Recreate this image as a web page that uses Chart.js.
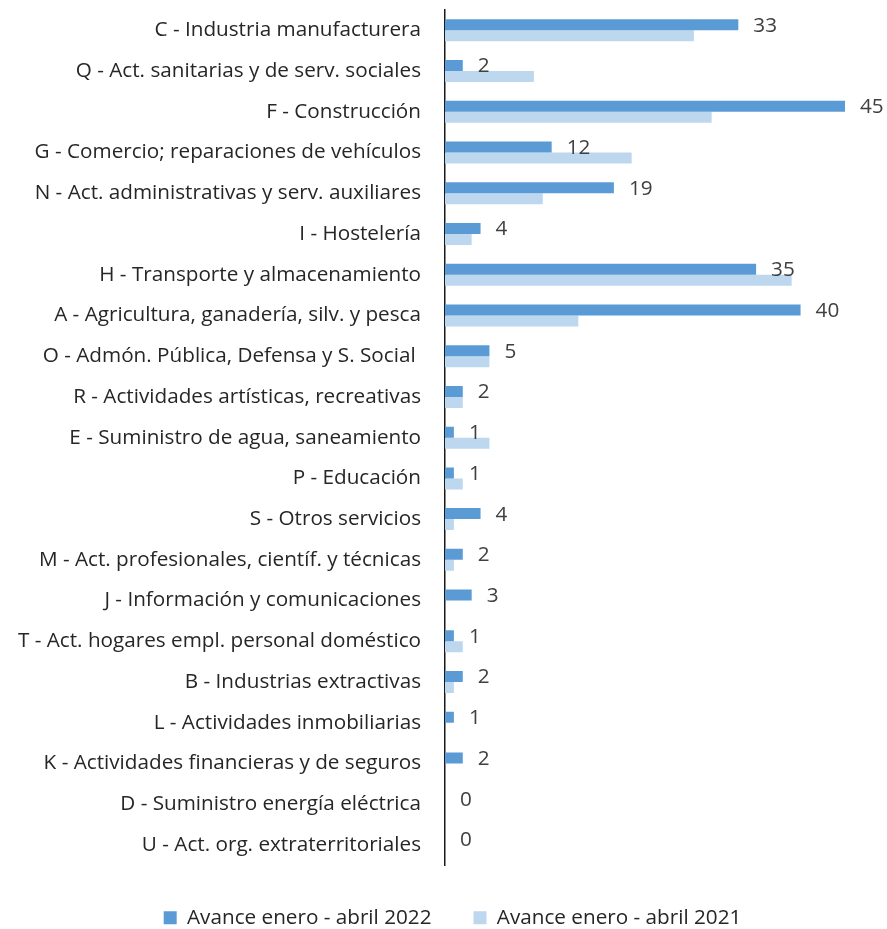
<!DOCTYPE html>
<html>
<head>
<meta charset="utf-8">
<script src="https://cdn.jsdelivr.net/npm/chart.js@4/dist/chart.umd.min.js"></script>
<style>
    html, body { margin: 0; padding: 0; background: #fff; }
    #wrap { width: 887px; height: 929px; }
</style>
</head>
<body>
<div id="wrap"><canvas id="myChart" width="887" height="929"></canvas></div>
<script>
const categories = [
    "C - Industria manufacturera",
    "Q - Act. sanitarias y de serv. sociales",
    "F - Construcción",
    "G - Comercio; reparaciones de vehículos",
    "N - Act. administrativas y serv. auxiliares",
    "I - Hostelería",
    "H - Transporte y almacenamiento",
    "A - Agricultura, ganadería, silv. y pesca",
    "O - Admón. Pública, Defensa y S. Social ",
    "R - Actividades artísticas, recreativas",
    "E - Suministro de agua, saneamiento",
    "P - Educación",
    "S - Otros servicios",
    "M - Act. profesionales, científ. y técnicas",
    "J - Información y comunicaciones",
    "T - Act. hogares empl. personal doméstico",
    "B - Industrias extractivas",
    "L - Actividades inmobiliarias",
    "K - Actividades financieras y de seguros",
    "D - Suministro energía eléctrica",
    "U - Act. org. extraterritoriales"
];

const avance2022 = [33, 2, 45, 12, 19, 4, 35, 40, 5, 2, 1, 1, 4, 2, 3, 1, 2, 1, 2, 0, 0];
const avance2021 = [28, 10, 30, 21, 11, 3, 39, 15, 5, 2, 5, 2, 1, 1, 0, 2, 1, 0, 0, 0, 0];

const seriesNames = ["Avance enero - abril 2022", "Avance enero - abril 2021"];

const FONT = "'Open Sans', 'Noto Sans', sans-serif";
const FONT_SIZE = 20.7;

const ctx = document.getElementById('myChart').getContext("2d");

// value labels on the 2022 bars only
const barLabels = {
    id: 'barLabels',
    afterDatasetsDraw(chart) {
        const {ctx} = chart;
        const meta = chart.getDatasetMeta(0);
        ctx.save();
        ctx.font = FONT_SIZE + "px " + FONT;
        ctx.fillStyle = "#404040";
        ctx.textAlign = "left";
        ctx.textBaseline = "middle";
        meta.data.forEach((bar, i) => {
            ctx.fillText(String(avance2022[i]), bar.x + 15, bar.y + 1);
        });
        ctx.restore();
    }
};

// legend in the original is centred a bit right of the canvas middle
const legendShift = {
    id: 'legendShift',
    beforeDraw(chart) {
        chart.legend.left = 60;
    }
};

const chart = new Chart(ctx, {
    type: "bar",
    data: {
        labels: categories,
        datasets: [{
            label: seriesNames[0],
            data: avance2022,
            backgroundColor: "#5B9BD5",
            borderWidth: 0
        }, {
            label: seriesNames[1],
            data: avance2021,
            backgroundColor: "#BDD7EE",
            borderWidth: 0
        }]
    },
    options: {
        indexAxis: 'y',
        responsive: false,
        animation: false,
        datasets: {
            bar: {
                barPercentage: 1,
                categoryPercentage: 0.54
            }
        },
        layout: {
            padding: {top: 10, right: 42, left: 0, bottom: -9}
        },
        plugins: {
            tooltip: {enabled: false},
            legend: {
                position: 'bottom',
                labels: {
                    boxWidth: 13,
                    boxHeight: 13,
                    padding: 42,
                    color: "#262626",
                    font: {family: FONT, size: FONT_SIZE}
                }
            }
        },
        scales: {
            x: {
                display: false,
                min: 0,
                max: 45
            },
            y: {
                grid: {display: false, drawTicks: false},
                border: {display: true, color: "#1a1a1a", width: 1.5},
                ticks: {
                    autoSkip: false,
                    padding: 24,
                    color: "#262626",
                    font: {family: FONT, size: FONT_SIZE}
                },
                afterFit(scale) {
                    // axis line at x = 445
                    scale.width = 445;
                    scale.paddingTop = 0;
                    scale.paddingBottom = 0;
                }
            }
        }
    },
    plugins: [barLabels, legendShift]
});
</script>
</body>
</html>
